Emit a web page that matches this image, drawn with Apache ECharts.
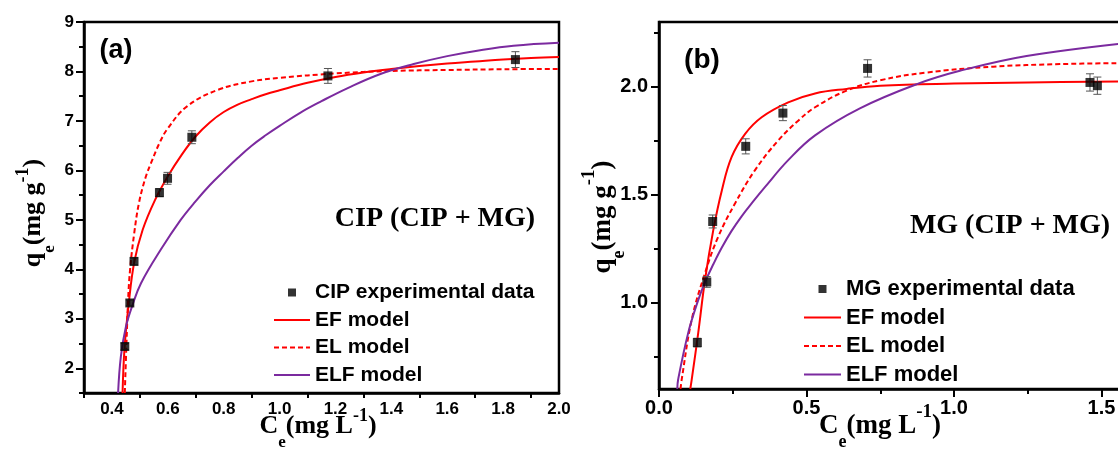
<!DOCTYPE html>
<html>
<head>
<meta charset="utf-8">
<script src="https://cdn.jsdelivr.net/npm/echarts@6/dist/echarts.min.js"></script>
<style>
  html, body { margin: 0; padding: 0; background: #fff; }
  #chart { width: 1118px; height: 449px; }
</style>
</head>
<body>
<div id="chart"></div>
<script>
// ---------- (a) CIP adsorbed in the binary CIP + MG system ----------
const cipCe  = [0.446, 0.464, 0.479, 0.570, 0.599, 0.686, 1.173, 1.844];
const cipQe  = [2.44, 3.32, 4.16, 5.55, 5.84, 6.67, 7.91, 8.24];
const cipErr = [0.06, 0.06, 0.07, 0.08, 0.12, 0.13, 0.15, 0.16];

const cipEF = [[0.438,1.5],[0.445,2.4],[0.46,3.3],[0.48,4.15],[0.51,4.8],[0.554,5.4],[0.6,5.88],
  [0.65,6.32],[0.7,6.69],[0.75,6.97],[0.8,7.18],[0.85,7.33],[0.9,7.44],[0.95,7.54],[1.0,7.62],
  [1.1,7.77],[1.2,7.89],[1.3,7.98],[1.4,8.05],[1.5,8.11],[1.6,8.16],[1.7,8.2],[1.8,8.24],
  [1.9,8.27],[2.0,8.29]];
const cipEL = [[0.446,1.5],[0.452,2.5],[0.458,3.4],[0.465,4.0],[0.48,4.74],[0.497,5.35],[0.52,5.85],
  [0.54,6.15],[0.57,6.55],[0.6,6.85],[0.67,7.3],[0.78,7.63],[0.9,7.8],[1.0,7.87],[1.2,7.96],
  [1.4,8.01],[1.6,8.03],[1.8,8.045],[2.0,8.05]];
const cipELF = [[0.422,1.5],[0.432,2.24],[0.45,2.84],[0.475,3.3],[0.504,3.72],[0.575,4.4],[0.646,5.0],
  [0.7,5.38],[0.75,5.7],[0.8,5.98],[0.85,6.25],[0.9,6.5],[0.95,6.71],[1.0,6.9],[1.075,7.17],
  [1.15,7.4],[1.242,7.66],[1.361,7.95],[1.48,8.15],[1.6,8.31],[1.718,8.43],[1.837,8.52],[2.0,8.58]];

const cipXLabels = [0.4, 0.6, 0.8, 1.0, 1.2, 1.4, 1.6, 1.8, 2.0];
const cipXMinor  = [0.3, 0.5, 0.7, 0.9, 1.1, 1.3, 1.5, 1.7, 1.9];
const cipYLabels = [2, 3, 4, 5, 6, 7, 8, 9];
const cipYMinor  = [1.5, 2.5, 3.5, 4.5, 5.5, 6.5, 7.5, 8.5];

// ---------- (b) MG adsorbed in the binary CIP + MG system ----------
const mgCe  = [0.130, 0.162, 0.182, 0.294, 0.420, 0.707, 1.461, 1.486];
const mgQe  = [0.815, 1.096, 1.376, 1.724, 1.878, 2.085, 2.020, 2.005];
const mgErr = [0.02, 0.025, 0.03, 0.035, 0.035, 0.04, 0.04, 0.04];

const mgEF = [[0.106,0.6],[0.111,0.645],[0.133,0.86],[0.156,1.106],[0.184,1.336],[0.213,1.52],
  [0.246,1.674],[0.292,1.782],[0.348,1.859],[0.438,1.928],[0.529,1.969],[0.636,1.99],
  [0.75,2.005],[1.0,2.015],[1.25,2.02],[1.6,2.025]];
const mgEL = [[0.073,0.6],[0.077,0.645],[0.111,0.922],[0.156,1.137],[0.201,1.306],[0.258,1.46],
  [0.325,1.613],[0.404,1.751],[0.472,1.843],[0.529,1.905],[0.636,1.982],[0.75,2.03],
  [0.907,2.066],[1.133,2.093],[1.359,2.105],[1.6,2.11]];
const mgELF = [[0.062,0.6],[0.065,0.645],[0.099,0.86],[0.13,1.0],[0.156,1.095],[0.185,1.18],
  [0.213,1.255],[0.245,1.33],[0.28,1.4],[0.32,1.47],[0.359,1.535],[0.438,1.66],[0.529,1.775],
  [0.681,1.9],[0.874,2.012],[1.02,2.074],[1.246,2.143],[1.6,2.205]];

const mgXLabels = [0.0, 0.5, 1.0, 1.5];
const mgXMinor  = [0.25, 0.75, 1.25];
const mgYLabels = [1.0, 1.5, 2.0];
const mgYMinor  = [0.75, 1.25, 1.75, 2.25];

// ---------- styling ----------
const INK = '#000';
const RED = '#ff0000';
const PURPLE = '#7b2a9f';
const SANS = '"Liberation Sans", Arial, sans-serif';
const SERIF = '"Liberation Serif", "Times New Roman", serif';

const oneDecimal = v => Number(v).toFixed(1);
const integer = v => String(Math.round(v));

// Main axis (line, labels, major ticks) plus an overlaid axis carrying the minor ticks
function axisPair(gridIndex, position, min, max, labelVals, majorVals, minorVals, fontSize, margin, fmt) {
  const main = {
    type: 'value', gridIndex, position, min, max,
    axisLine: { show: true, onZero: false, lineStyle: { color: INK, width: 2.5 } },
    axisTick: majorVals
      ? { show: true, customValues: majorVals, length: 8, lineStyle: { color: INK, width: 2 } }
      : { show: false },
    axisLabel: {
      show: true, customValues: labelVals, margin, color: INK,
      fontFamily: SANS, fontWeight: 'bold', fontSize, formatter: fmt
    },
    splitLine: { show: false }
  };
  const minor = {
    type: 'value', gridIndex, position, min, max,
    axisLine: { show: false, onZero: false },
    axisTick: { show: true, customValues: minorVals, length: 5, lineStyle: { color: INK, width: 2 } },
    axisLabel: { show: false },
    splitLine: { show: false }
  };
  return [main, minor];
}

function errorBars(xAxisIndex, yAxisIndex, xs, ys, errs) {
  return {
    type: 'custom', xAxisIndex, yAxisIndex, z: 3, silent: true,
    data: xs.map((x, i) => [x, ys[i], errs[i]]),
    encode: { x: 0, y: 1 },
    renderItem: function (params, api) {
      const x = api.value(0), y = api.value(1), e = api.value(2);
      const hi = api.coord([x, y + e]);
      const lo = api.coord([x, y - e]);
      const w = 4;
      const st = { stroke: '#555', lineWidth: 1 };
      return {
        type: 'group',
        children: [
          { type: 'line', shape: { x1: hi[0], y1: hi[1], x2: lo[0], y2: lo[1] }, style: st },
          { type: 'line', shape: { x1: hi[0] - w, y1: hi[1], x2: hi[0] + w, y2: hi[1] }, style: st },
          { type: 'line', shape: { x1: lo[0] - w, y1: lo[1], x2: lo[0] + w, y2: lo[1] }, style: st }
        ]
      };
    }
  };
}

function points(name, xAxisIndex, yAxisIndex, xs, ys) {
  return {
    name, type: 'scatter', xAxisIndex, yAxisIndex, z: 4,
    symbol: 'rect', symbolSize: 9,
    itemStyle: { color: INK },
    data: xs.map((x, i) => [x, ys[i]])
  };
}

function curve(name, xAxisIndex, yAxisIndex, data, color, dashed) {
  return {
    name, type: 'line', xAxisIndex, yAxisIndex, z: 2,
    data, symbol: 'none', showSymbol: false,
    smooth: 0.4, clip: true,
    lineStyle: { color, width: 2, type: dashed ? [5, 3] : 'solid' },
    itemStyle: { color }
  };
}

// Legend: a small square for the measured points, plain line swatches for the models
function legendBox(left, top, itemWidth, fontSize, gap, expName) {
  const lineItem = name => ({ name, itemStyle: { opacity: 0, borderWidth: 0 } });
  return {
    orient: 'vertical', left, top, padding: 0,
    itemWidth, itemHeight: 8, itemGap: gap, symbolKeepAspect: true,
    selectedMode: false,
    data: [
      { name: expName, icon: 'path://M0,0h10v10h-10z' },
      lineItem('EF model'), lineItem('EL model'), lineItem('ELF model')
    ],
    textStyle: { fontFamily: SANS, fontWeight: 'bold', fontSize, color: INK }
  };
}

// Axis title with a subscript after the first letter and a -1 exponent before the closing bracket
function axisTitle(x, y, vertical, main, sub, tail, sup, size, supShift) {
  const small = Math.round(size * 0.66);
  return {
    type: 'text', x, y, rotation: vertical ? Math.PI / 2 : 0, silent: true,
    style: {
      text: `{m|${main}}{s|${sub}}{m|${tail}}{p|${sup}}{m|)}`,
      align: 'center', verticalAlign: 'middle',
      rich: {
        m: { fontFamily: SERIF, fontWeight: 'bold', fontSize: size, lineHeight: 50, verticalAlign: 'middle', fill: INK },
        s: { fontFamily: SERIF, fontWeight: 'bold', fontSize: small, verticalAlign: 'bottom', fill: INK },
        p: { fontFamily: SERIF, fontWeight: 'bold', fontSize: small + 1, verticalAlign: 'top',
             padding: [supShift, 0, 0, 0], fill: INK }
      }
    }
  };
}

function plainText(x, y, text, family, size) {
  return {
    type: 'text', x, y, silent: true,
    style: { text, fontFamily: family, fontWeight: 'bold', fontSize: size, fill: INK, align: 'center', verticalAlign: 'middle' }
  };
}

const [axA, axAm] = axisPair(0, 'bottom', 0.3, 2.0, cipXLabels, null, cipXMinor, 17, 8, oneDecimal);
const [ayA, ayAm] = axisPair(0, 'left', 1.5, 9, cipYLabels, cipYLabels, cipYMinor, 17, 10, integer);
const [axB, axBm] = axisPair(1, 'bottom', 0, 1.6, mgXLabels, mgXLabels, mgXMinor, 20, 9, oneDecimal);
const [ayB, ayBm] = axisPair(1, 'left', 0.6, 2.3, mgYLabels, mgYLabels, mgYMinor, 20, 11, oneDecimal);

const option = {
  animation: false,
  backgroundColor: '#fff',
  grid: [
    { left: 84, top: 22, width: 475, height: 371, show: true, borderColor: INK, borderWidth: 2.5,
      backgroundColor: 'transparent', containLabel: false, outerBoundsMode: 'none' },
    { left: 659, top: 22, width: 472, height: 367, show: true, borderColor: INK, borderWidth: 2.5,
      backgroundColor: 'transparent', containLabel: false, outerBoundsMode: 'none' }
  ],
  xAxis: [axA, axAm, axB, axBm],
  yAxis: [ayA, ayAm, ayB, ayBm],
  legend: [
    legendBox(273, 282, 36, 21, 6.5, 'CIP experimental data'),
    legendBox(803, 278, 37, 22, 6.5, 'MG experimental data')
  ],
  graphic: [
    plainText(116, 51, '(a)', SANS, 27),
    plainText(702, 60, '(b)', SANS, 28),
    plainText(435, 219, 'CIP (CIP + MG)', SERIF, 28),
    plainText(1010, 226, 'MG (CIP + MG)', SERIF, 28),
    axisTitle(318, 426, false, 'C', 'e', '(mg L', '-1', 26, 6),
    axisTitle(880, 426, false, 'C', 'e', '(mg L', '-1', 27, 2),
    axisTitle(33, 213, true, 'q', 'e', '(mg g', '-1', 26, 6),
    axisTitle(603, 217, true, 'q', 'e', '(mg g', '-1', 27, 2)
  ],
  series: [
    curve('EF model', 0, 0, cipEF, RED, false),
    curve('EL model', 0, 0, cipEL, RED, true),
    curve('ELF model', 0, 0, cipELF, PURPLE, false),
    errorBars(0, 0, cipCe, cipQe, cipErr),
    points('CIP experimental data', 0, 0, cipCe, cipQe),

    curve('EF model', 2, 2, mgEF, RED, false),
    curve('EL model', 2, 2, mgEL, RED, true),
    curve('ELF model', 2, 2, mgELF, PURPLE, false),
    errorBars(2, 2, mgCe, mgQe, mgErr),
    points('MG experimental data', 2, 2, mgCe, mgQe)
  ]
};

const chart = echarts.init(document.getElementById('chart'), null, { renderer: 'canvas', width: 1118, height: 449 });
chart.setOption(option);
</script>
</body>
</html>
